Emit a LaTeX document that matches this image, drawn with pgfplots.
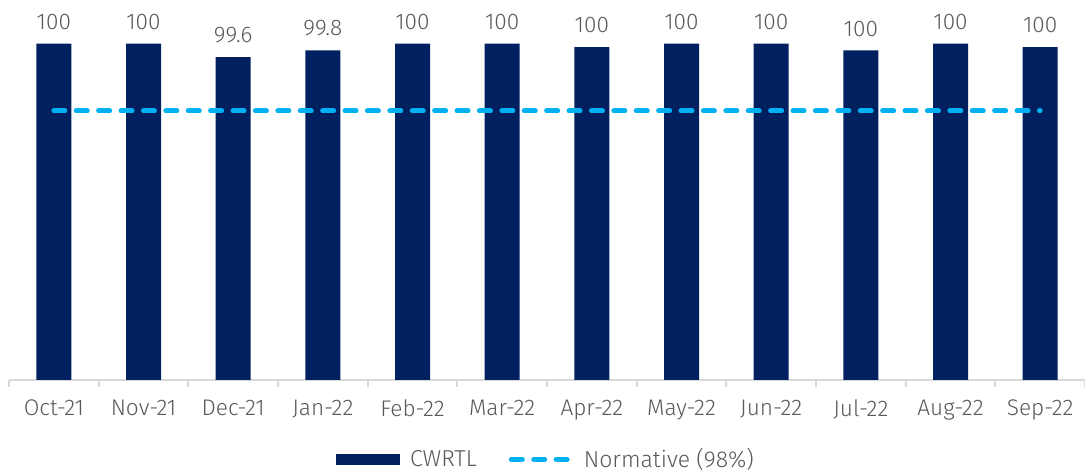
\documentclass[border=0pt]{standalone}
\usepackage{fontspec}
\setmainfont{Fira Sans}[UprightFont=* Light]
\usepackage{pgfplots}
\pgfplotsset{compat=1.18}
\definecolor{navy}{HTML}{002060}
\definecolor{cyanline}{HTML}{00B0F0}
\definecolor{txt}{HTML}{595959}
\definecolor{axgray}{HTML}{D9D9D9}

\begin{document}
\begin{tikzpicture}
\begin{axis}[
    name=ax,
    scale only axis,
    width=538pt, height=190pt,
    xmin=-0.5, xmax=11.5,
    ymin=90, ymax=101.3,
    axis x line=bottom,
    axis y line=none,
    x axis line style={axgray, line width=1pt, -},
    xtick={0,...,11},
    xticklabels={Oct-21,Nov-21,Dec-21,Jan-22,Feb-22,Mar-22,Apr-22,May-22,Jun-22,Jul-22,Aug-22,Sep-22},
    major tick length=0pt,
    minor xtick={-0.5,0.5,...,11.5},
    minor tick length=3.5pt,
    minor x tick style={axgray, line width=1pt},
    tick align=outside,
    xticklabel style={font=\fontsize{11.3}{13}\selectfont, text=txt, yshift=-6.5pt},
    legend style={at={(0.5,0)}, anchor=north, yshift=-30pt, draw=none,
        font=\fontsize{11.5}{13}\selectfont, text=txt,
        /tikz/every odd column/.append style={column sep=3pt},
        /tikz/every even column/.append style={column sep=14pt}},
    legend columns=2,
    legend cell align=left,
]
\addplot[ybar, bar width=17.5pt, fill=navy, draw=none,
    nodes near coords, point meta=explicit symbolic,
    nodes near coords style={font=\fontsize{11.3}{13}\selectfont, text=txt, anchor=south, yshift=3.5pt},
    legend image code/.code={\fill[navy] (0pt,-2.75pt) rectangle (32pt,2.75pt);}]
coordinates {
    (0,100)[100] (1,100)[100] (2,99.6)[99.6] (3,99.8)[99.8]
    (4,100)[100] (5,100)[100] (6,99.9)[100] (7,100)[100]
    (8,100)[100] (9,99.8)[100] (10,100)[100] (11,99.9)[100]
};
\addlegendentry{CWRTL}
\addplot[cyanline, line width=2.5pt, line cap=round, dash pattern=on 5.5pt off 5.7pt,
    legend image code/.code={\draw[cyanline, line width=2.5pt, line cap=round, dash pattern=on 5.5pt off 5.7pt] (0pt,0pt) -- (30pt,0pt);}]
coordinates {(0,98) (11,98)};
\addlegendentry{Normative (98\%)}
\end{axis}
\pgfresetboundingbox
\path ([shift={(-4.5pt,-46.5pt)}]ax.south west) rectangle (ax.north east);
\end{tikzpicture}
\end{document}
